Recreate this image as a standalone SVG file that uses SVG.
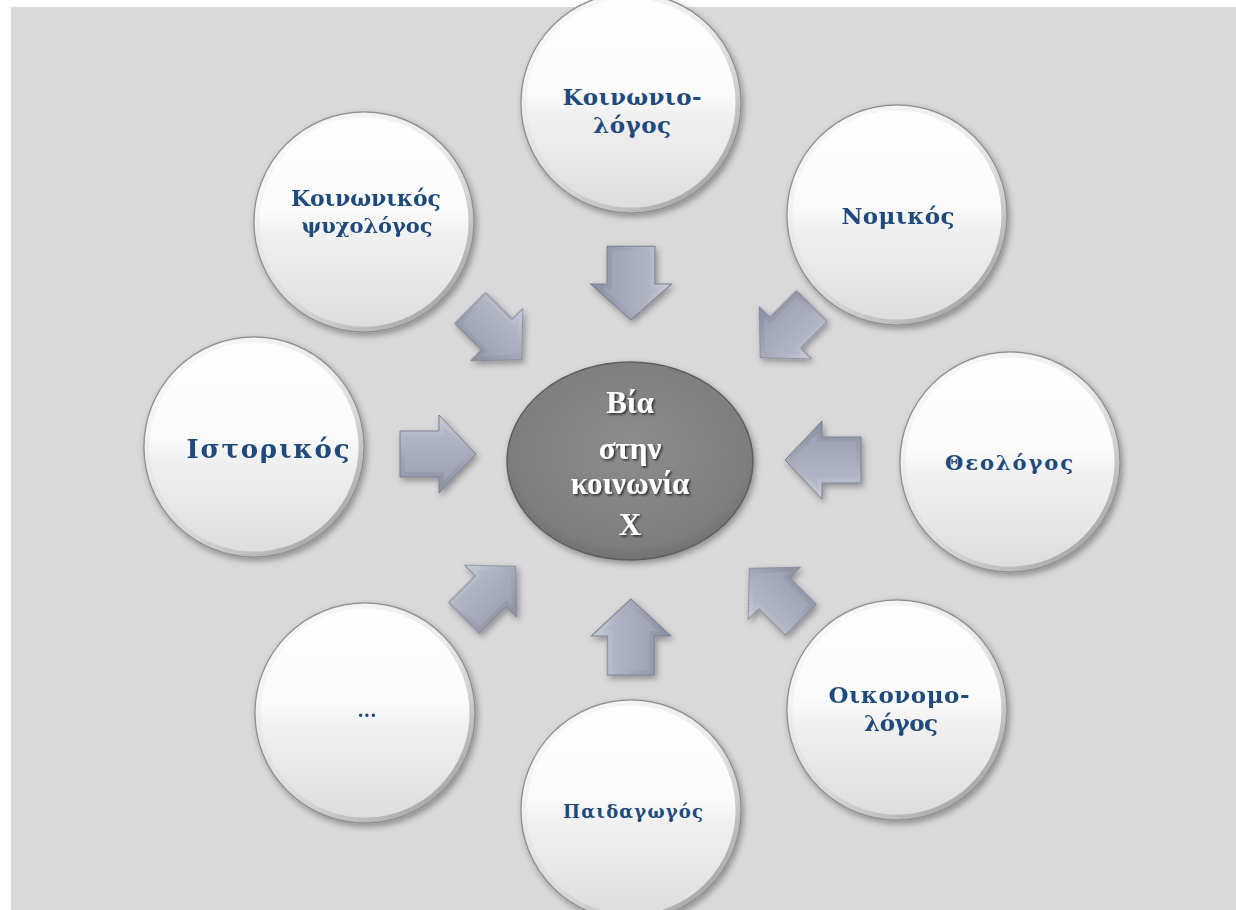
<svg xmlns="http://www.w3.org/2000/svg" width="1236" height="910" viewBox="0 0 1236 910">
<style>
.node-text{font-family:"DejaVu Serif","Liberation Serif",serif;font-weight:bold;fill:#1f4a7c;text-anchor:middle}
.center-text{font-family:"Liberation Serif","DejaVu Serif",serif;font-weight:bold;fill:#ffffff;text-anchor:middle;font-size:31px}
.bubble{fill:url(#bubbleGrad);stroke:#8f8f8f;stroke-width:1.5}
.bubble-rim{fill:none;stroke:url(#rimGrad);stroke-width:5}
.arrow{fill:url(#arrowGrad);stroke:#7c8192;stroke-width:1}
.arrow-inner{fill:url(#arrowInner);stroke:none}
</style>
<defs>
<linearGradient id="bubbleGrad" x1="0" y1="0" x2="0" y2="1">
<stop offset="0" stop-color="#ffffff"/>
<stop offset="0.45" stop-color="#fbfbfb"/>
<stop offset="0.55" stop-color="#f1f1f1"/>
<stop offset="1" stop-color="#dcdcdc"/>
</linearGradient>
<linearGradient id="rimGrad" x1="0" y1="0" x2="1" y2="1">
<stop offset="0" stop-color="#ffffff" stop-opacity="0.6"/>
<stop offset="0.5" stop-color="#d0d0d0" stop-opacity="0.4"/>
<stop offset="1" stop-color="#7a7a7a" stop-opacity="0.8"/>
</linearGradient>
<radialGradient id="centerGrad" cx="0.5" cy="0.45" r="0.6">
<stop offset="0" stop-color="#8c8c8c"/>
<stop offset="0.8" stop-color="#7e7e7e"/>
<stop offset="1" stop-color="#666666"/>
</radialGradient>
<linearGradient id="arrowGrad" x1="0" y1="0" x2="0" y2="1">
<stop offset="0" stop-color="#c9ccd8"/>
<stop offset="0.5" stop-color="#a4a8b8"/>
<stop offset="1" stop-color="#8a8fa1"/>
</linearGradient>
<linearGradient id="arrowInner" x1="0" y1="0" x2="0" y2="1">
<stop offset="0" stop-color="#b4b8c7"/>
<stop offset="1" stop-color="#9da1b2"/>
</linearGradient>
<filter id="shadow" x="-20%" y="-20%" width="140%" height="140%">
<feDropShadow dx="2" dy="3" stdDeviation="3" flood-color="#000000" flood-opacity="0.35"/>
</filter>
<filter id="textShadow" x="-10%" y="-20%" width="120%" height="140%">
<feDropShadow dx="1.5" dy="1.5" stdDeviation="1" flood-color="#000000" flood-opacity="0.7"/>
</filter>
<g id="arrowShape">
<path class="arrow" d="M-38,-23 H1 V-39 L38,0 L1,39 V23 H-38 Z"/>
<path class="arrow-inner" d="M-33,-18 H6 V-27 L30,0 L6,27 V18 H-33 Z"/>
</g>
</defs>
<rect x="0" y="0" width="1236" height="910" fill="#ffffff"/>
<rect x="11" y="7" width="1225" height="903" fill="#d9d9d9"/>

<g id="connectors" filter="url(#shadow)">
<use href="#arrowShape" transform="translate(631,283) rotate(90) scale(0.97,1.04)"/>
<use href="#arrowShape" transform="translate(631,637) rotate(-90) scale(1,1.02)"/>
<use href="#arrowShape" transform="translate(438,454)"/>
<use href="#arrowShape" transform="translate(823,460) rotate(180)"/>
<use href="#arrowShape" transform="translate(496,334) rotate(45) scale(0.96,0.95)"/>
<use href="#arrowShape" transform="translate(786,332) rotate(135) scale(0.96,0.95)"/>
<use href="#arrowShape" transform="translate(490,592) rotate(-45) scale(0.96,0.95)"/>
<use href="#arrowShape" transform="translate(775,594) rotate(-135) scale(0.96,0.95)"/>
</g>

<g id="node-center">
<ellipse cx="630" cy="461" rx="123" ry="99" fill="url(#centerGrad)" stroke="#5e5e5e" stroke-width="1.5" filter="url(#shadow)"/>
<g filter="url(#textShadow)">
<text class="center-text" x="630" y="413">Βία</text>
<text class="center-text" x="630" y="459">στην</text>
<text class="center-text" x="630" y="494">κοινωνία</text>
<text class="center-text" x="630" y="535">Χ</text>
</g>
</g>

<g id="node-sociologist">
<circle class="bubble" cx="631" cy="103" r="110" filter="url(#shadow)"/>
<circle class="bubble-rim" cx="631" cy="103" r="107"/>
<text class="node-text" x="632" y="105" font-size="23" textLength="139" lengthAdjust="spacing">Κοινωνιο-</text>
<text class="node-text" x="632" y="133" font-size="23" textLength="78" lengthAdjust="spacing">λόγος</text>
</g>

<g id="node-social-psychologist">
<circle class="bubble" cx="364" cy="222" r="110" filter="url(#shadow)"/>
<circle class="bubble-rim" cx="364" cy="222" r="107"/>
<text class="node-text" x="366" y="206" font-size="22" textLength="150" lengthAdjust="spacing">Κοινωνικός</text>
<text class="node-text" x="367" y="233" font-size="21" textLength="131" lengthAdjust="spacing">ψυχολόγος</text>
</g>

<g id="node-lawyer">
<circle class="bubble" cx="897" cy="215" r="110" filter="url(#shadow)"/>
<circle class="bubble-rim" cx="897" cy="215" r="107"/>
<text class="node-text" x="898" y="224" font-size="23" textLength="113" lengthAdjust="spacing">Νομικός</text>
</g>

<g id="node-historian">
<circle class="bubble" cx="254" cy="447" r="110" filter="url(#shadow)"/>
<circle class="bubble-rim" cx="254" cy="447" r="107"/>
<text class="node-text" x="268" y="458" font-size="26" textLength="163" lengthAdjust="spacing">Ιστορικός</text>
</g>

<g id="node-theologian">
<circle class="bubble" cx="1010" cy="462" r="110" filter="url(#shadow)"/>
<circle class="bubble-rim" cx="1010" cy="462" r="107"/>
<text class="node-text" x="1009" y="470" font-size="21" textLength="128" lengthAdjust="spacing">Θεολόγος</text>
</g>

<g id="node-other">
<circle class="bubble" cx="365" cy="713" r="110" filter="url(#shadow)"/>
<circle class="bubble-rim" cx="365" cy="713" r="107"/>
<text class="node-text" x="367" y="717" font-size="18">...</text>
</g>

<g id="node-economist">
<circle class="bubble" cx="897" cy="710" r="110" filter="url(#shadow)"/>
<circle class="bubble-rim" cx="897" cy="710" r="107"/>
<text class="node-text" x="899" y="703" font-size="23" textLength="141" lengthAdjust="spacing">Οικονομο-</text>
<text class="node-text" x="901" y="731" font-size="23" textLength="74" lengthAdjust="spacing">λόγος</text>
</g>

<g id="node-pedagogue">
<circle class="bubble" cx="631" cy="810" r="110" filter="url(#shadow)"/>
<circle class="bubble-rim" cx="631" cy="810" r="107"/>
<text class="node-text" x="633" y="818" font-size="18" textLength="140" lengthAdjust="spacing">Παιδαγωγός</text>
</g>
</svg>
